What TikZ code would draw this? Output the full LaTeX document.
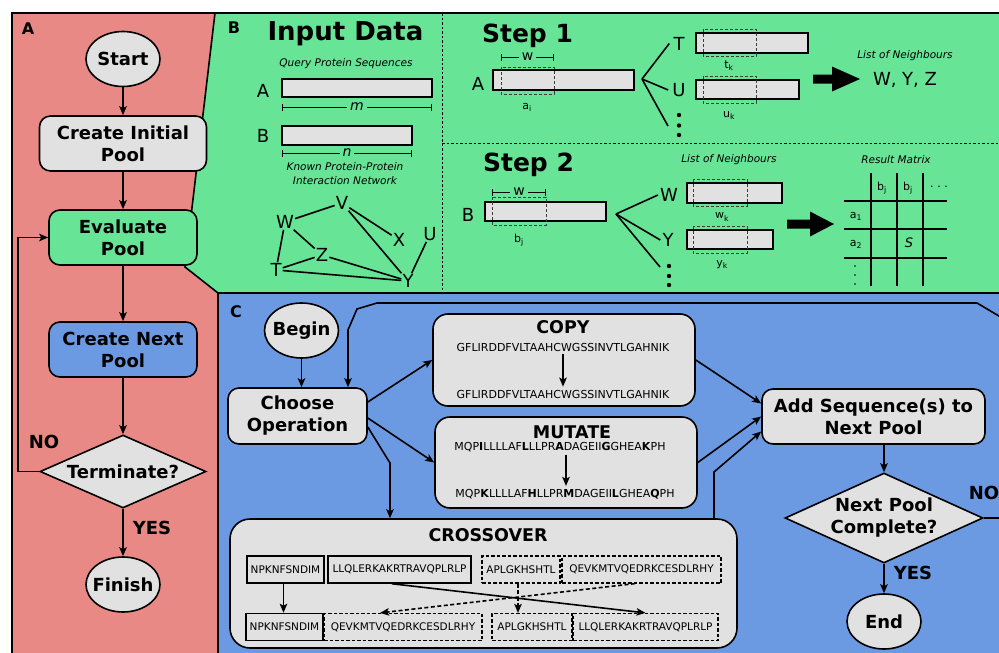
\documentclass[tikz,border=0pt]{standalone}
\usepackage{fontspec}
\setmainfont{DejaVu Sans}
\usetikzlibrary{arrows.meta,shapes.geometric}

\definecolor{panelA}{RGB}{232,137,134}
\definecolor{panelB}{RGB}{103,228,150}
\definecolor{panelC}{RGB}{107,154,226}
\definecolor{boxfill}{RGB}{225,225,225}
\definecolor{winline}{RGB}{60,60,60}

\newcommand{\fsz}[2]{\fontsize{#1}{#2}\selectfont}

\tikzset{
  conn/.style={line width=1.6pt, -{Stealth[length=9pt,width=7.5pt,inset=2pt]}},
  dconn/.style={conn, dash pattern=on 4pt off 2.5pt},
  plain/.style={line width=1.6pt},
  flowbox/.style={draw, line width=1.6pt, rounded corners=11pt, align=center,
                  inner sep=0pt, font=\bfseries\fsz{18}{22}},
  terminal/.style={ellipse, draw, line width=1.6pt, fill=boxfill, inner sep=-6pt,
                   minimum width=74pt, minimum height=55pt, font=\bfseries\fsz{18}{22}},
  decision/.style={diamond, draw, line width=1.6pt, fill=boxfill, align=center,
                   inner sep=0pt, shape aspect=2.2, font=\bfseries\fsz{18}{22}},
  panellabel/.style={font=\bfseries\fsz{16}{16}},
  heading/.style={font=\bfseries\fsz{25}{25}},
  caption/.style={font=\itshape\fsz{10.5}{14}, align=center},
  letter/.style={font=\fsz{18}{18}, inner sep=1pt},
  sublabel/.style={font=\fsz{11}{11}, inner sep=1pt},
  seqbar/.style={draw, line width=1.5pt, fill=boxfill, inner sep=0pt},
  window/.style={draw=winline, dash pattern=on 3pt off 2pt, line width=1pt},
  opbox/.style={draw, line width=1.6pt, fill=boxfill, rounded corners=15pt, inner sep=0pt},
  optitle/.style={font=\bfseries\fsz{17.5}{17.5}},
  seq/.style={font=\fsz{11}{11}, inner sep=3pt},
  frag/.style={draw, line width=1.5pt, inner sep=0pt, minimum height=27pt, font=\fsz{10.5}{10.5}},
  dfrag/.style={frag, line width=1.2pt, dash pattern=on 3.5pt off 2pt},
  dimline/.style={line width=0.9pt, {Bar[width=7pt]}-{Bar[width=7pt]}},
  dimtext/.style={fill=panelB, inner xsep=3pt, inner ysep=0pt},
  flowlabel/.style={font=\bfseries\fsz{18}{18}},
  divider/.style={line width=1pt, dash pattern=on 2.5pt off 2pt},
}

\begin{document}
\begin{tikzpicture}[x=1pt,y=-1pt]
\useasboundingbox (0,0) rectangle (999,653);
\fill[white] (0,0) rectangle (999,653);

% ---------- panel backgrounds ----------
\fill[panelA] (12,13) -- (215,13) -- (185,267) -- (218,293) -- (218,670) -- (12,670) -- cycle;
\fill[panelB] (215,13) -- (1010,13) -- (1010,293) -- (218,293) -- (185,267) -- cycle;
\fill[panelC] (218,293) rectangle (1010,670);
\draw[line width=1.6pt] (215,13) -- (185,267) -- (218,293) -- (218,670);
\draw[line width=2pt] (218,293) -- (1010,293);
\draw[line width=2.2pt] (12,670) -- (12,13) -- (1010,13);
\draw[divider] (442,13) -- (442,293);
\draw[divider] (442,143) -- (1010,143);

% ---------- panel A: overall algorithm ----------
\node[panellabel] at (28,29) {A};
\node[terminal] (start) at (123,59) {Start};
\node[flowbox, fill=boxfill, minimum width=167pt, minimum height=55pt] (init) at (123,143.5) {Create Initial\\Pool};
\node[flowbox, fill=panelB, minimum width=148pt, minimum height=55pt] (eval) at (123,237.5) {Evaluate\\Pool};
\node[flowbox, fill=panelC, minimum width=148pt, minimum height=55pt] (nextpool) at (123,349.5) {Create Next\\Pool};
\node[decision, minimum width=166pt, minimum height=73pt] (term) at (123,471.5) {Terminate?};
\node[terminal] (finish) at (123,584.5) {Finish};

\draw[conn] (start) -- (start |- init.north);
\draw[conn] (init.south) -- (init.south |- eval.north);
\draw[conn] (eval) -- (eval |- nextpool.north);
\draw[conn] (nextpool) -- (nextpool |- term.north);
\draw[conn] (term) -- (term |- finish.north);
\draw[conn] (term.west) -- ++(-21,0) |- (eval.west);
\node[flowlabel] at (44,442) {NO};
\node[flowlabel] at (152,528) {YES};

% ---------- panel B: input data ----------
\node[panellabel] at (234,28) {B};
\node[font=\bfseries\fsz{26}{26}] at (345.5,33.5) {Input Data};
\node[caption] at (346,64) {Query Protein Sequences};
\node[letter] at (263,91) {A};
\node[seqbar, minimum width=150pt, minimum height=18pt] (qA) at (357,88) {};
\draw[dimline] (282,107) -- node[dimtext, font=\itshape\fsz{14}{14}] {m} (432,107);
\node[letter] at (263,136) {B};
\node[seqbar, minimum width=130pt, minimum height=19pt] (qB) at (347,135.5) {};
\draw[dimline] (282,153) -- node[dimtext, font=\itshape\fsz{14}{14}] {n} (412,153);
\node[caption] at (345,174) {Known Protein-Protein\\Interaction Network};

% interaction network
\node[letter] (gV) at (342,203) {V};
\node[letter] (gW) at (285,222) {W};
\node[letter] (gX) at (399,240) {X};
\node[letter] (gU) at (430,234) {U};
\node[letter] (gZ) at (322,255) {Z};
\node[letter] (gT) at (276,270) {T};
\node[letter] (gY) at (408,281) {Y};
\draw[plain] (gW) -- (gV);
\draw[plain] (gV) -- (gX);
\draw[plain] (gV) -- (gY);
\draw[plain] (gW) -- (gZ);
\draw[plain] (gW) -- (gT);
\draw[plain] (gT) -- (gZ);
\draw[plain] (gZ) -- (gY);
\draw[plain] (gT) -- (gY);
\draw[plain] (gU) -- (gY);

% ---------- panel B: step 1 ----------
\node[heading] at (527.5,36) {Step 1};
\draw[dimline] (501,57) -- node[dimtext, font=\fsz{14}{14}] {w} (554,57);
\node[letter] (s1A) at (478,84) {A};
\node[seqbar, minimum width=141pt, minimum height=20pt] (s1bar) at (563.5,80) {};
\draw[window] (501,67) rectangle (554,94);
\node[sublabel] at (527,107) {a\textsubscript{i}};
\coordinate (fan1) at (642,79);
\node[letter] (lT) at (679,43.5) {T};
\node[letter] (lU) at (679,90) {U};
\coordinate (dots1) at (668,126);
\fill (679,115) circle (2.2) (679,125.5) circle (2.2) (679,135) circle (2.2);
\draw[plain] (fan1) -- ([xshift=-3pt]lT.west);
\draw[plain] (fan1) -- ([xshift=-3pt]lU.west);
\draw[plain] (fan1) -- (dots1);
\node[seqbar, minimum width=112pt, minimum height=20pt] (tbar) at (752,43) {};
\draw[window] (703,29) rectangle (756,56);
\node[sublabel] at (729,66) {t\textsubscript{k}};
\node[seqbar, minimum width=103pt, minimum height=19pt] (ubar) at (747.5,89.5) {};
\draw[window] (703,76) rectangle (756,103);
\node[sublabel] at (729,115) {u\textsubscript{k}};
\fill (813,74.5) -- (832,74.5) -- (832,66.5) -- (860,79) -- (832,91.5) -- (832,83.5) -- (813,83.5) -- cycle;
\node[caption] at (905,56) {List of Neighbours};
\node[font=\fsz{18}{18}] at (905,80) {W, Y, Z};

% ---------- panel B: step 2 ----------
\node[heading] at (528.5,165) {Step 2};
\draw[dimline] (492,192) -- node[dimtext, font=\fsz{14}{14}] {w} (546,192);
\node[letter] (s2B) at (468,215) {B};
\node[seqbar, minimum width=121pt, minimum height=19pt] (s2bar) at (545.5,211.5) {};
\draw[window] (492,197) rectangle (546,225);
\node[sublabel] at (519,240) {b\textsubscript{j}};
\coordinate (fan2) at (616,214);
\node[letter] (lW) at (669,195) {W};
\node[letter] (lY) at (668,240) {Y};
\coordinate (dots2) at (660,267);
\fill (669,266) circle (2.2) (669,276) circle (2.2) (669,285) circle (2.2);
\draw[plain] (fan2) -- ([xshift=-1pt]lW.west);
\draw[plain] (fan2) -- ([xshift=-1pt]lY.west);
\draw[plain] (fan2) -- (dots2);
\node[caption] at (729,160) {List of Neighbours};
\node[seqbar, minimum width=95pt, minimum height=20pt] (wbar) at (734.5,193) {};
\draw[window] (693,179) rectangle (747,206);
\node[sublabel] at (722,217) {w\textsubscript{k}};
\node[seqbar, minimum width=86pt, minimum height=19pt] (ybar) at (730,239.5) {};
\draw[window] (693,226) rectangle (747,253);
\node[sublabel] at (722,265) {y\textsubscript{k}};
\fill (787,219.5) -- (810,219.5) -- (810,211.5) -- (834,224) -- (810,236.5) -- (810,228.5) -- (787,228.5) -- cycle;

% result matrix
\node[caption] at (896,160) {Result Matrix};
\foreach \gx in {871,897,923} \draw[plain] (\gx,173) -- (\gx,286);
\foreach \gy in {201,229,258} \draw[plain] (844,\gy) -- (947,\gy);
\node[sublabel] at (882,188) {b\textsubscript{j}};
\node[sublabel] at (908,188) {b\textsubscript{j}};
\node[sublabel] at (939,187) {.\,\,.\,\,.};
\node[sublabel] at (856,216) {a\textsubscript{1}};
\node[sublabel] at (856,244) {a\textsubscript{2}};
\node[font=\itshape\fsz{13}{13}] at (909,243) {S};
\fill (855,266) circle (0.9) (855,275) circle (0.9) (855,284) circle (0.9);

% ---------- panel C: creating the next pool ----------
\node[panellabel] at (236,312) {C};
\node[terminal] (begin) at (301.5,330.5) {Begin};
\node[flowbox, fill=boxfill, minimum width=139pt, minimum height=56pt] (choose) at (297.5,416) {Choose\\Operation};
\node[flowbox, fill=boxfill, minimum width=223pt, minimum height=55pt] (add) at (873.5,416.5) {Add Sequence(s) to\\Next Pool};
\node[decision, minimum width=198pt, minimum height=90pt] (done) at (884,518) {Next Pool\\Complete?};
\node[terminal] (endnode) at (884,621.5) {End};

% copy operation
\node[opbox, minimum width=262pt, minimum height=92pt] (copy) at (564,360) {};
\node[optitle] at (563,327) {COPY};
\node[seq] (cp1) at (563,347) {GFLIRDDFVLTAAHCWGSSINVTLGAHNIK};
\node[seq] (cp2) at (563,394) {GFLIRDDFVLTAAHCWGSSINVTLGAHNIK};
\draw[conn] (cp1) -- (cp2);

% mutate operation
\node[opbox, minimum width=262pt, minimum height=91pt] (mutate) at (566,462.5) {};
\node[optitle] at (572,432) {MUTATE};
\node[seq] (mt1) at (560,447) {MQP\textbf{I}LLLLAF\textbf{L}LLPR\textbf{A}DAGEII\textbf{G}GHEA\textbf{K}PH};
\node[seq] (mt2) at (565,494) {MQP\textbf{K}LLLLAF\textbf{H}LLPR\textbf{M}DAGEII\textbf{L}GHEA\textbf{Q}PH};
\draw[conn] (mt1.south -| 566,0) -- (mt2.north -| 566,0);

% crossover operation
\node[opbox, rounded corners=20pt, minimum width=507pt, minimum height=129pt] (cross) at (483.5,583.5) {};
\node[optitle] at (488,535) {CROSSOVER};
\node[frag, minimum width=77pt] (p1a) at (285.5,569.5) {NPKNFSNDIM};
\node[frag, minimum width=143pt] (p1b) at (399.5,569.5) {LLQLERKAKRTRAVQPLRLP};
\node[dfrag, minimum width=78pt] (p2a) at (521,569.5) {APLGKHSHTL};
\node[dfrag, minimum width=159pt] (p2b) at (641.5,569.5) {QEVKMTVQEDRKCESDLRHY};
\node[frag, minimum width=77pt] (c1a) at (284.5,627) {NPKNFSNDIM};
\node[dfrag, minimum width=158pt] (c1b) at (403,627) {QEVKMTVQEDRKCESDLRHY};
\node[dfrag, minimum width=80pt] (c2a) at (532,627) {APLGKHSHTL};
\node[dfrag, minimum width=145pt] (c2b) at (645.5,627) {LLQLERKAKRTRAVQPLRLP};
\draw[conn] ([xshift=-2pt]p1a.south) -- ([xshift=-1pt]c1a.north);
\draw[conn] ([xshift=-7.5pt]p1b.south) -- (c2b.north);
\draw[dconn] ([xshift=-6.5pt]p2b.south) -- ([xshift=-23pt]c1b.north);
\draw[dconn] ([xshift=-3pt]p2a.south) -- ([xshift=-14pt]c2a.north);

% flow of panel C
\draw[conn] (begin.south) -- (begin.south |- choose.north);
\draw[conn] ([yshift=14pt]choose.east) -- (copy.west);
\draw[conn] ([yshift=-2pt]choose.east) -- (mutate.west);
\coordinate (xbend) at (390,463);
\draw[conn] ([yshift=-11pt]choose.east) -- (xbend) -- (xbend |- cross.north);
\draw[conn] (copy.east) -- ([yshift=13pt]add.west);
\draw[conn] (mutate.east) -- (add.west);
\coordinate (xup) at (714,472);
\draw[conn] (xup |- cross.north) -- (xup) -- ([yshift=-15pt]add.west);
\draw[conn] (done.north |- add.south) -- (done.north);
\draw[conn] (done.south) -- (endnode.north);
\coordinate (loopin) at (348,330);
\draw[conn] (done.east) -- (1004,518) -- (1004,319) -- (977,303) -- (377,303) -- (357,309) -- (loopin) -- (loopin |- choose.north);
\node[flowlabel] at (984,493) {NO};
\node[flowlabel] at (913,573) {YES};
\end{tikzpicture}
\end{document}
